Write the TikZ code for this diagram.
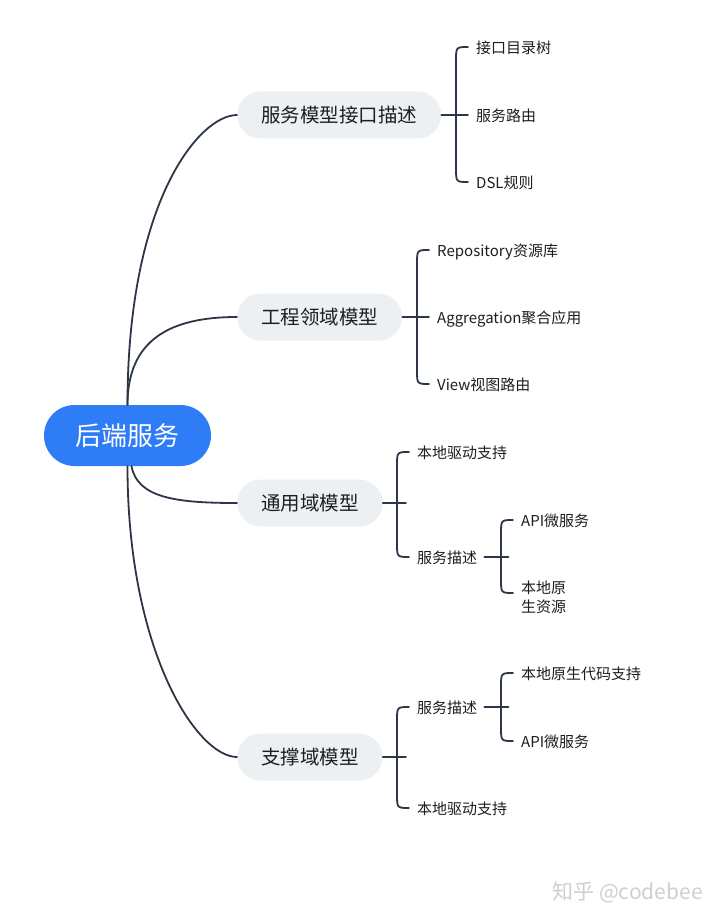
\documentclass[tikz,border=0pt]{standalone}
\usepackage{fontspec}
\setmainfont{Noto Sans CJK SC}
\usetikzlibrary{calc}
\definecolor{rootblue}{HTML}{2E7CF6}
\definecolor{pillgray}{HTML}{EDF0F3}
\definecolor{linecol}{HTML}{2C3646}
\definecolor{txt}{HTML}{1E1E1E}
\definecolor{wmgray}{HTML}{CFCFCF}
\begin{document}
\begin{tikzpicture}[x=1pt,y=-1pt,
  rootnode/.style={fill=rootblue,text=white,font=\fontsize{26}{30}\selectfont,
    rounded corners=30.5pt,minimum height=61pt,minimum width=167pt,inner sep=0pt},
  pill/.style={fill=pillgray,text=txt,font=\fontsize{19.5}{23}\selectfont,
    rounded corners=23.5pt,minimum height=47pt,inner xsep=24pt,inner ysep=0pt,anchor=west},
  leaf/.style={text=txt,font=\fontsize{15}{19}\selectfont,anchor=west,inner sep=0pt,
    text height=14pt,text depth=1pt},
  leaftwo/.style={text=txt,font=\fontsize{15}{19}\selectfont,anchor=west,inner sep=0pt,align=left},
  conn/.style={draw=linecol,line width=1.8pt,line cap=round},
  wmark/.style={text=wmgray,font=\fontsize{21}{25}\selectfont,anchor=east,inner sep=0pt,
    text height=18pt,text depth=3pt}
]
\useasboundingbox (0,0) rectangle (720,920);
\fill[white] (0,0) rectangle (720,920);

% root and main branches
\node[rootnode] (root) at (127.5,435.5) {后端服务};
\node[pill] (b1) at (237,115) {服务模型接口描述};
\node[pill] (b2) at (237,317) {工程领域模型};
\node[pill] (b3) at (237,503) {通用域模型};
\node[pill] (b4) at (237,757) {支撑域模型};

% leaves branch 1
\node[leaf] (l11) at (476,47) {接口目录树};
\node[leaf] (l12) at (476,115) {服务路由};
\node[leaf] (l13) at (476,182) {DSL规则};
% leaves branch 2
\node[leaf] (l21) at (437,250) {Repository资源库};
\node[leaf] (l22) at (437,317) {Aggregation聚合应用};
\node[leaf] (l23) at (437,384) {View视图路由};
% leaves branch 3
\node[leaf] (l31) at (417,452) {本地驱动支持};
\node[leaf] (l32) at (417,557) {服务描述};
\node[leaf] (l321) at (521,520) {API微服务};
\node[leaftwo] (l322) at (521,597) {本地原\\生资源};
% leaves branch 4
\node[leaf] (l41) at (417,707) {服务描述};
\node[leaf] (l42) at (417,808) {本地驱动支持};
\node[leaf] (l411) at (521,673) {本地原生代码支持};
\node[leaf] (l412) at (521,741) {API微服务};

% watermark
\node[wmark] (wm) at (703,892) {知乎 @codebee};

% root connectors
\draw[conn] (root.north) .. controls ($(root.north)+(0,-205)$) and ($(b1.west)+(-37,0)$) .. (b1.west);
\draw[conn] (root.north) .. controls ($(root.north)+(0,-65)$) and ($(b2.west)+(-67,0)$) .. (b2.west);
\draw[conn] ($(root.south)+(4,0)$) .. controls ($(root.south)+(10,32)$) and ($(b3.west)+(-60,0)$) .. (b3.west);
\draw[conn] (root.south) .. controls ($(root.south)+(0,185)$) and ($(b4.west)+(-40,0)$) .. (b4.west);

% brackets
% branch 1
\draw[conn] (b1.east) -- ($(l12.west)+(-8,0)$);
\draw[conn] ($(l11.west)+(-8,0)$) .. controls ($(l11.west)+(-20,0)$) .. ($(l11.west)+(-20,14)$)
  -- ($(l13.west)+(-20,-14)$) .. controls ($(l13.west)+(-20,0)$) .. ($(l13.west)+(-8,0)$);
% branch 2
\draw[conn] (b2.east) -- ($(l22.west)+(-8,0)$);
\draw[conn] ($(l21.west)+(-8,0)$) .. controls ($(l21.west)+(-20,0)$) .. ($(l21.west)+(-20,14)$)
  -- ($(l23.west)+(-20,-14)$) .. controls ($(l23.west)+(-20,0)$) .. ($(l23.west)+(-8,0)$);
% branch 3
\draw[conn] (b3.east) -- ($(b3.east)+(23,0)$);
\draw[conn] ($(l31.west)+(-8,0)$) .. controls ($(l31.west)+(-20,0)$) .. ($(l31.west)+(-20,14)$)
  -- ($(l32.west)+(-20,-14)$) .. controls ($(l32.west)+(-20,0)$) .. ($(l32.west)+(-8,0)$);
\draw[conn] ($(l32.east)+(7,0)$) -- ($(l32.east)+(31,0)$);
\draw[conn] ($(l321.west)+(-8,0)$) .. controls ($(l321.west)+(-20,0)$) .. ($(l321.west)+(-20,14)$)
  -- ($(l322.west)+(-20,-18)$) .. controls ($(l322.west)+(-20,-4)$) .. ($(l322.west)+(-8,-4)$);
% branch 4
\draw[conn] (b4.east) -- ($(b4.east)+(23,0)$);
\draw[conn] ($(l41.west)+(-8,0)$) .. controls ($(l41.west)+(-20,0)$) .. ($(l41.west)+(-20,14)$)
  -- ($(l42.west)+(-20,-14)$) .. controls ($(l42.west)+(-20,0)$) .. ($(l42.west)+(-8,0)$);
\draw[conn] ($(l41.east)+(7,0)$) -- ($(l41.east)+(31,0)$);
\draw[conn] ($(l411.west)+(-8,0)$) .. controls ($(l411.west)+(-20,0)$) .. ($(l411.west)+(-20,14)$)
  -- ($(l412.west)+(-20,-14)$) .. controls ($(l412.west)+(-20,0)$) .. ($(l412.west)+(-8,0)$);
\end{tikzpicture}
\end{document}
